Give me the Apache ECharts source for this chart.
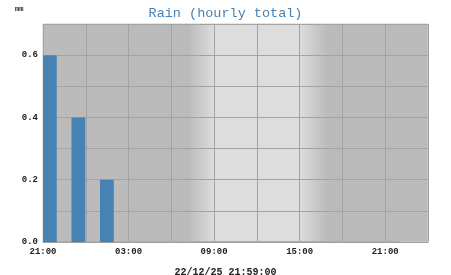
<!DOCTYPE html>
<html><head><meta charset="utf-8">
<script src="https://cdn.jsdelivr.net/npm/echarts@6/dist/echarts.min.js"></script>
<style>html,body{margin:0;padding:0;background:#fff}#c{width:451px;height:275px}</style>
</head><body><div id="c"></div>
<script>
// Hourly rain totals, one per hour starting 21:00 (22/12/24) through 21:00 (22/12/25)
const hourLabels = ['21:00','22:00','23:00','00:00','01:00','02:00','03:00','04:00','05:00','06:00','07:00','08:00','09:00','10:00','11:00','12:00','13:00','14:00','15:00','16:00','17:00','18:00','19:00','20:00','21:00'];
const rainMM = [0.6,0,0.4,0,0.2,0,0,0,0,0,0,0,0,0,0,0,0,0,0,0,0,0,0,0,0];
// Sun phase boundaries in hours since 21:00: dawn start, day start, dusk start, night start
const phaseNames  = ['night','day','day','night'];
const phaseHours  = [10.2, 12, 18, 19.9];
const yTicks = [0.0, 0.2, 0.4, 0.6];
const axisHours = 27;
const titleText = 'Rain (hourly total)';
const unitText = 'mm';
const stampText = '22/12/25 21:59:00';

const NIGHT = '#bbbbbb', DAY = '#dddddd';
const mono = 'Liberation Mono, DejaVu Sans Mono, monospace';
const chart = echarts.init(document.getElementById('c'));

function backgroundFill(){
  const stops = phaseHours.map((h, i) => ({offset: h / axisHours, color: phaseNames[i] === 'day' ? DAY : NIGHT}));
  stops.unshift({offset: 0, color: NIGHT});
  stops.push({offset: 1, color: NIGHT});
  return new echarts.graphic.LinearGradient(0,0,1,0,stops);
}

chart.setOption({
  animation: false,
  title: [
    {text: titleText, left: 'center', top: 1, textStyle:{fontFamily: mono, fontSize: 13.5, fontWeight: 'normal', color:'#4682b4'}},
    {text: unitText, left: 10, top: 1, textStyle:{fontFamily: mono, fontSize: 7, fontWeight: 'bold', color:'#222'}},
    {text: stampText, left: 'center', top: 262, textStyle:{fontFamily: mono, fontSize: 10, fontWeight: 'bold', color:'#222'}}
  ],
  grid: {left: 43, right: 23, top: 24, bottom: 33, show: true, borderColor: '#cccccc', borderWidth: 1, backgroundColor: 'transparent'},
  xAxis: {
    type: 'value', min: 0, max: axisHours, interval: 3,
    axisLine: {show: true, lineStyle: {color: '#a0a0a0'}},
    axisTick: {show: false},
    splitLine: {show: true, lineStyle: {color: '#a3a3a3', width: 1}},
    axisLabel: {
      fontFamily: mono, fontSize: 9, fontWeight: 'bold', color: '#222', margin: 5,
      formatter: v => (v % 6 === 0 && v < axisHours) ? hourLabels[v % 24] : ''
    }
  },
  yAxis: {
    type: 'value', min: 0, max: 0.7, interval: 0.1,
    axisLine: {show: false}, axisTick: {show: false},
    splitLine: {show: true, lineStyle: {color: '#a3a3a3', width: 1}},
    axisLabel: {
      fontFamily: mono, fontSize: 9, fontWeight: 'bold', color: '#222', margin: 5,
      formatter: v => yTicks.some(t => Math.abs(t - v) < 1e-6) ? v.toFixed(1) : ''
    }
  },
  series: [
    {
      type: 'custom', z: -1, silent: true,
      data: [[0, axisHours]],
      renderItem: (params, api) => {
        const a = api.coord([api.value(0), 0.7]);
        const b = api.coord([api.value(1), 0]);
        return {type: 'rect', shape: {x: a[0], y: a[1], width: b[0]-a[0], height: b[1]-a[1]},
                style: {fill: backgroundFill()}};
      }
    },
    {
      type: 'custom', z: 5,
      data: rainMM.map((v, i) => [i, i + 1, v]),
      renderItem: (params, api) => {
        const v = api.value(2);
        const a = api.coord([api.value(0), v]);
        const b = api.coord([api.value(1), 0]);
        const children = [{type: 'line', shape: {x1: a[0], y1: b[1]-0.5, x2: b[0], y2: b[1]-0.5}, style: {stroke: '#94b4d0', lineWidth: 1}}];
        if (v > 0) children.push({type: 'rect', shape: {x: a[0], y: a[1], width: b[0]-a[0]-0.5, height: b[1]-a[1]}, style: {fill: '#4682b4'}});
        return {type: 'group', children};
      }
    }
  ]
});
</script></body></html>
